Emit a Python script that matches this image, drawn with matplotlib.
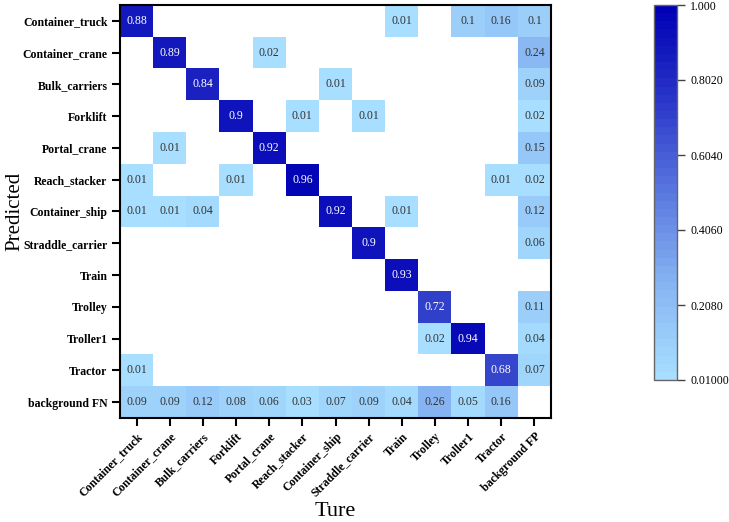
import numpy as np
import matplotlib
matplotlib.use("Agg")
import matplotlib.pyplot as plt
from matplotlib.colors import LinearSegmentedColormap

classes = ["Container_truck", "Container_crane", "Bulk_carriers", "Forklift",
           "Portal_crane", "Reach_stacker", "Container_ship", "Straddle_carrier",
           "Train", "Trolley", "Troller1", "Tractor"]
row_labels = classes + ["background FN"]
col_labels = classes + ["background FP"]

# rows = predicted, cols = true
cm = np.array([
    [0.88, 0, 0, 0, 0, 0, 0, 0, 0.01, 0, 0.1, 0.16, 0.1],
    [0, 0.89, 0, 0, 0.02, 0, 0, 0, 0, 0, 0, 0, 0.24],
    [0, 0, 0.84, 0, 0, 0, 0.01, 0, 0, 0, 0, 0, 0.09],
    [0, 0, 0, 0.9, 0, 0.01, 0, 0.01, 0, 0, 0, 0, 0.02],
    [0, 0.01, 0, 0, 0.92, 0, 0, 0, 0, 0, 0, 0, 0.15],
    [0.01, 0, 0, 0.01, 0, 0.96, 0, 0, 0, 0, 0, 0.01, 0.02],
    [0.01, 0.01, 0.04, 0, 0, 0, 0.92, 0, 0.01, 0, 0, 0, 0.12],
    [0, 0, 0, 0, 0, 0, 0, 0.9, 0, 0, 0, 0, 0.06],
    [0, 0, 0, 0, 0, 0, 0, 0, 0.93, 0, 0, 0, 0],
    [0, 0, 0, 0, 0, 0, 0, 0, 0, 0.72, 0, 0, 0.11],
    [0, 0, 0, 0, 0, 0, 0, 0, 0, 0.02, 0.94, 0, 0.04],
    [0.01, 0, 0, 0, 0, 0, 0, 0, 0, 0, 0, 0.68, 0.07],
    [0.09, 0.09, 0.12, 0.08, 0.06, 0.03, 0.07, 0.09, 0.04, 0.26, 0.05, 0.16, 0],
])
cbar_ticks = [0.01, 0.208, 0.406, 0.604, 0.802, 1.0]
cbar_ticklabels = ["0.01000", "0.2080", "0.4060", "0.6040", "0.8020", "1.000"]

cmap = LinearSegmentedColormap.from_list(
    "blues", ["#a8deff", "#86b4f2", "#5a78e0", "#2a36c8", "#0000b4"], N=46)
cmap.set_bad("white")

fig = plt.figure(figsize=(7.29, 5.22), dpi=100)
ax = fig.add_axes([120/729, 1 - 418/522, 431/729, 413/522])
data = np.ma.masked_where(cm == 0, cm)
im = ax.imshow(data, cmap=cmap, vmin=0.01, vmax=1.0, aspect="auto",
               interpolation="nearest")

for i in range(cm.shape[0]):
    for j in range(cm.shape[1]):
        v = cm[i, j]
        if v == 0:
            continue
        ax.text(j, i, f"{v:g}", ha="center", va="center", fontsize=8.5,
                family="Liberation Serif",
                color="white" if v > 0.5 else "#333333")

ax.set_xticks(range(len(col_labels)))
ax.set_yticks(range(len(row_labels)))
ax.set_xticklabels(col_labels, rotation=45, ha="right", rotation_mode="anchor",
                   family="Liberation Serif", fontweight="bold", fontsize=8.5)
ax.set_yticklabels(row_labels, family="Liberation Serif", fontweight="bold",
                   fontsize=8.5)
ax.tick_params(axis="both", length=6, width=1.5, pad=3)
for s in ax.spines.values():
    s.set_linewidth(1.5)
ax.set_xlabel("Ture", family="Liberation Serif", fontsize=16, labelpad=2)
ax.set_ylabel("Predicted", family="Liberation Serif", fontsize=15)
ax.yaxis.set_label_coords(-0.222, 0.5)

cax = fig.add_axes([654/729, 1 - 380/522, 23/729, 375/522])
cb = fig.colorbar(im, cax=cax, ticks=cbar_ticks)
cb.ax.set_yticklabels(cbar_ticklabels, family="Liberation Serif", fontsize=8.5)
cb.outline.set_edgecolor("#666666")
cb.outline.set_linewidth(1.0)
cb.ax.tick_params(length=6, width=1, color="#444444")

fig.savefig("out.png", dpi=100)
